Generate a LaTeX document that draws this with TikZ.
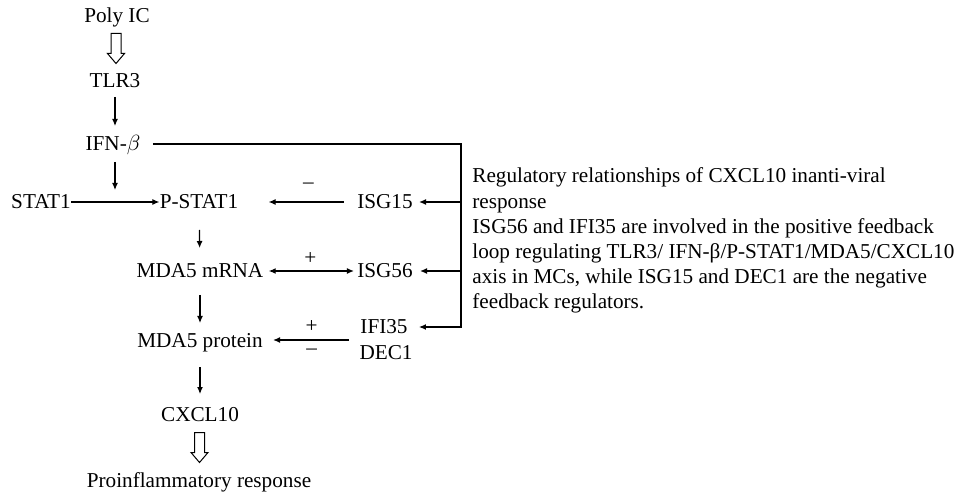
\documentclass[tikz,border=0pt]{standalone}
\usepackage{fontspec}
\setmainfont{Liberation Serif}
\usetikzlibrary{arrows.meta}

\begin{document}
\begin{tikzpicture}[x=0.5pt,y=-0.5pt,
  font=\fontsize{10.6}{12.6}\selectfont,
  lbl/.style={inner sep=0pt,text height=7pt,text depth=0pt},
  sign/.style={inner sep=0pt},
  arr/.style={line width=0.6pt,-{Latex[length=3.5pt,width=3pt]}}]
    \newcommand{\hollowArrow}[2]{
        \path (#1) -- coordinate[midway] (mid) (#2);
        \draw[line width=0.5pt] ([shift={(-5,-15)}]mid) -- ++(10,0) -- ++(0,20)
          -- ++(3.5,0) -- ++(-8.5,10) -- ++(-8.5,-10) -- ++(3.5,0) -- cycle;
    }
  \useasboundingbox (0,0) rectangle (960,492);

  % main pathway
  \node[lbl] (polyIC) at (117,16) {Poly IC};
  \node[lbl] (tlr) at (115,81) {TLR3};
  \node[lbl] (ifn) at (113,144) {IFN-$\beta$};
  \node[lbl] (stat) at (41,202) {STAT1};
  \node[lbl] (pstat) at (199,202) {P-STAT1};
  \node[lbl] (mrna) at (200,271) {MDA5 mRNA};
  \node[lbl] (protein) at (200,340) {MDA5 protein};
  \node[lbl] (cxcl) at (200,415) {CXCL10};
  \node[lbl] (proinf) at (199,480) {Proinflammatory response};

  % feedback genes
  \node[lbl] (isgA) at (385,202) {ISG15};
  \node[lbl] (isgB) at (385,271) {ISG56};
  \node[lbl] (ifi) at (384,327) {IFI35};
  \node[lbl] (dec) at (386,352) {DEC1};
  \coordinate (fbX) at (461,0);

  \node[anchor=north west,inner sep=0pt,align=left] (note) at (472,167.5)
    {Regulatory relationships of CXCL10 inanti-viral\\
     response\\
     ISG56 and IFI35 are involved in the positive feedback\\
     loop regulating TLR3/ IFN-β/P-STAT1/MDA5/CXCL10\\
     axis in MCs, while ISG15 and DEC1 are the negative\\
     feedback regulators.};

  \hollowArrow{polyIC}{tlr}
  \hollowArrow{cxcl}{proinf}

  \draw[arr,shorten <=8pt,shorten >=9pt] (tlr.center) -- (tlr |- ifn);
  \draw[arr,shorten <=9pt,shorten >=6pt] (tlr |- ifn) -- (tlr |- stat);
  \draw[arr] (stat.east) -- (pstat.west);
  \draw[arr,shorten <=14pt,shorten >=11.5pt] (pstat.center) -- (mrna.center);
  \draw[arr,shorten <=12pt,shorten >=8.5pt] (mrna.center) -- (protein.center);
  \draw[arr,shorten <=13.5pt,shorten >=10.5pt] (protein.center) -- (cxcl.center);

  \draw[arr,shorten <=6.5pt,shorten >=15pt] (isgA.west) --
    node[sign,pos=0.41,yshift=8pt] {–} (pstat.east);
  \draw[line width=0.6pt,{Latex[length=3.5pt,width=3pt]}-{Latex[length=3.5pt,width=3pt]},
    shorten <=2.5pt,shorten >=1.5pt] (mrna.east) --
    node[sign,midway,yshift=6pt] {+} (isgB.west);
  \draw[arr,shorten <=5.5pt,shorten >=5pt] (protein -| ifi.west) --
    node[sign,midway,yshift=6.5pt] {+}
    node[sign,midway,yshift=-6pt] {–} (protein.east);

  \draw[arr,shorten <=6pt,shorten >=5.5pt] (ifn.east) -- (fbX |- ifn) -- (fbX |- ifi) -- (ifi.east);
  \draw[arr,shorten >=3pt] (fbX |- isgA) -- (isgA.east);
  \draw[arr,shorten >=3.5pt] (fbX |- isgB) -- (isgB.east);

\end{tikzpicture}
\end{document}
